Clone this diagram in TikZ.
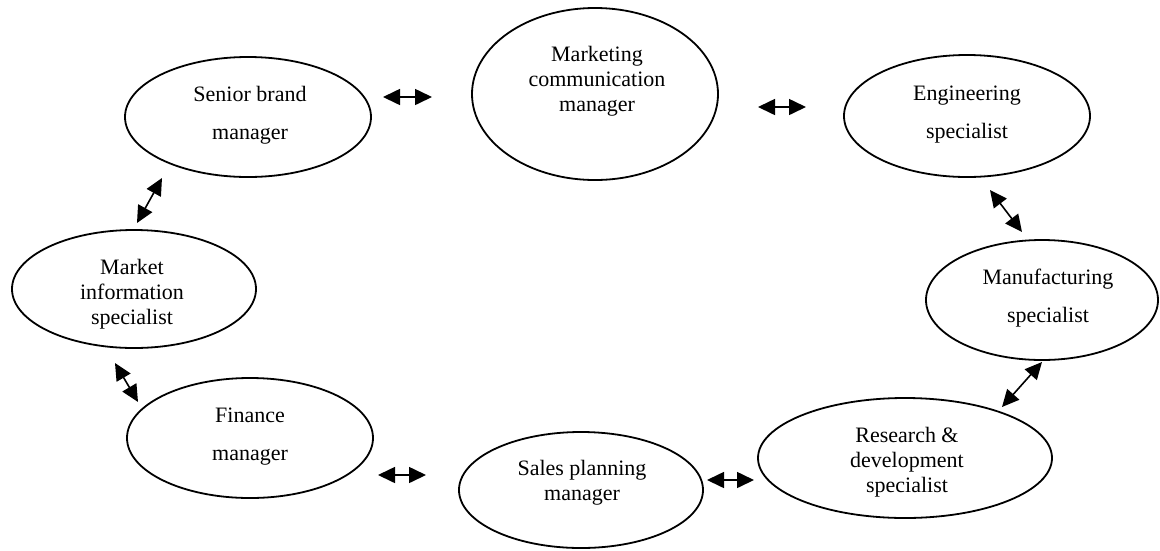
\documentclass[tikz,border=0pt]{standalone}
\usepackage{fontspec}
\setmainfont{Liberation Serif}
\usetikzlibrary{shapes.geometric,arrows.meta}

\tikzset{
  role/.style={draw, ellipse, line width=1.8pt, inner sep=0pt},
  wide/.style={align=center, font=\fontsize{22}{38}\selectfont, inner sep=0pt},
  tight/.style={align=center, font=\fontsize{22}{25}\selectfont, inner sep=0pt},
  link/.style={line width=1.6pt, {Triangle[length=17pt,width=16pt]}-{Triangle[length=17pt,width=16pt]}}
}

\begin{document}
\begin{tikzpicture}[x=1pt, y=-1pt]
  \useasboundingbox (0,0) rectangle (1160,550);

  % team members
  \node[role, minimum width=246pt, minimum height=120pt] (sbm) at (248,117) {};
  \node[role, minimum width=246pt, minimum height=172pt] (mcm) at (595,94) {};
  \node[role, minimum width=246pt, minimum height=122pt] (eng) at (967,116) {};
  \node[role, minimum width=232pt, minimum height=120pt] (man) at (1042,300) {};
  \node[role, minimum width=294pt, minimum height=120pt] (rnd) at (905,458) {};
  \node[role, minimum width=244pt, minimum height=116pt] (spm) at (581,490) {};
  \node[role, minimum width=246pt, minimum height=120pt] (fin) at (250,438) {};
  \node[role, minimum width=244pt, minimum height=118pt] (mis) at (134,289) {};

  % labels
  \node[wide]  (sbmt) at (250,115) {Senior brand\\manager};
  \node[tight] (mcmt) at (597,81)  {Marketing\\communication\\manager};
  \node[wide]  (engt) at (967,115) {Engineering\\specialist};
  \node[wide]  (mant) at (1048,298) {Manufacturing\\specialist};
  \node[tight] (rndt) at (907,462) {Research \&\\development\\specialist};
  \node[tight] (spmt) at (582,483) {Sales planning\\manager};
  \node[wide]  (fint) at (250,437) {Finance\\manager};
  \node[tight] (mist) at (132,294) {Market\\information\\specialist};

  % ends of the two-way links
  \coordinate (l1a) at (383,97);   \coordinate (l1b) at (432,97);
  \coordinate (l2a) at (758,107);  \coordinate (l2b) at (806,107);
  \coordinate (l3a) at (990,190);  \coordinate (l3b) at (1022,232);
  \coordinate (l4a) at (1042,362); \coordinate (l4b) at (1002,407);
  \coordinate (l5a) at (707,480);  \coordinate (l5b) at (754,480);
  \coordinate (l6a) at (378,475);  \coordinate (l6b) at (426,475);
  \coordinate (l7a) at (115,363);  \coordinate (l7b) at (138,402);
  \coordinate (l8a) at (162,178);  \coordinate (l8b) at (137,223);

  \draw[link] (l1a) -- (l1b);
  \draw[link] (l2a) -- (l2b);
  \draw[link] (l3a) -- (l3b);
  \draw[link] (l4a) -- (l4b);
  \draw[link] (l5a) -- (l5b);
  \draw[link] (l6a) -- (l6b);
  \draw[link] (l7a) -- (l7b);
  \draw[link] (l8a) -- (l8b);
\end{tikzpicture}
\end{document}
